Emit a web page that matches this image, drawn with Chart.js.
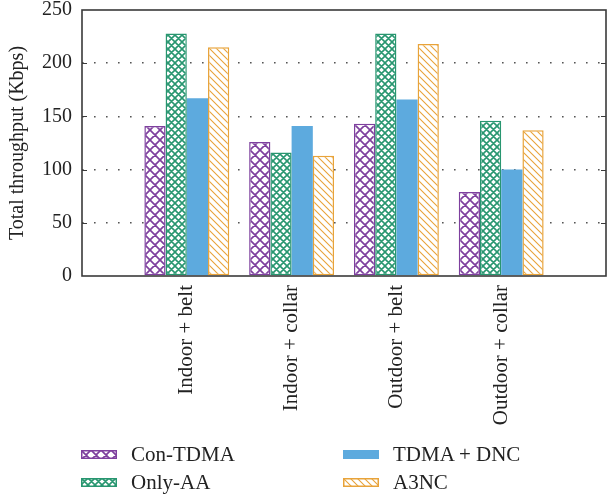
<!DOCTYPE html>
<html><head><meta charset="utf-8">
<script src="https://cdn.jsdelivr.net/npm/chart.js@4/dist/chart.umd.min.js"></script>
<style>
html,body{margin:0;padding:0;background:#fff;}
#wrap{position:relative;width:609px;height:496px;}
#c{display:block}
.leg{position:absolute;height:26px;font-family:'Liberation Serif',serif;font-size:21px;color:#222;display:flex;align-items:center;white-space:nowrap;}
.leg canvas{margin-right:14px;display:block}
</style></head><body>
<div id="wrap"><canvas id="c" width="609" height="496"></canvas><div id="legend"></div></div>
<script>
const categories = ['', 'Indoor + belt', 'Indoor + collar', 'Outdoor + belt', 'Outdoor + collar', ''];
const seriesNames = ['Con-TDMA', 'Only-AA', 'TDMA + DNC', 'A3NC'];
const conTdma = [null, 141, 126, 143, 79, null];
const onlyAA  = [null, 228, 116, 228, 146, null];
const tdmaDnc = [null, 167, 141, 166, 100, null];
const a3nc    = [null, 215, 113, 218, 137, null];
const yTicks  = [0, 50, 100, 150, 200, 250];

const PURPLE = 'rgb(126,64,158)', GREEN = 'rgb(40,150,112)', BLUE = 'rgb(93,170,222)', ORANGE = 'rgb(232,163,58)';

function makePattern(color, type, s, lw) {
  const c = document.createElement('canvas'); c.width = s; c.height = s;
  const g = c.getContext('2d');
  g.fillStyle = '#fff'; g.fillRect(0, 0, s, s);
  g.strokeStyle = color; g.lineWidth = lw;
  g.beginPath();
  if (type === 'cross' || type === 'back') {
    g.moveTo(-1, -1); g.lineTo(s + 1, s + 1);
    g.moveTo(-2, s - 2); g.lineTo(2, s + 2);
    g.moveTo(s - 2, -2); g.lineTo(s + 2, 2);
  }
  if (type === 'cross') {
    g.moveTo(-1, s + 1); g.lineTo(s + 1, -1);
    g.moveTo(-2, 2); g.lineTo(2, -2);
    g.moveTo(s - 2, s + 2); g.lineTo(s + 2, s - 2);
  }
  g.stroke();
  return g.createPattern(c, 'repeat');
}
const ctx = document.getElementById('c').getContext('2d');
const fills = [makePattern(PURPLE, 'cross', 10, 1.7), makePattern(GREEN, 'cross', 7, 1.6), BLUE, makePattern(ORANGE, 'back', 7, 1.1)];
const borders = [PURPLE, GREEN, BLUE, ORANGE];
const values = [conTdma, onlyAA, tdmaDnc, a3nc];

const boxPlugin = {
  id: 'box',
  afterDraw(chart) {
    const {ctx, chartArea: a, scales: {y}} = chart;
    ctx.save();
    ctx.strokeStyle = '#3a3a3a'; ctx.lineWidth = 1.6;
    ctx.strokeRect(a.left, a.top, a.right - a.left, a.bottom - a.top);
    ctx.lineWidth = 1.2;
    yTicks.slice(1, -1).forEach(v => {
      const py = Math.round(y.getPixelForValue(v)) + 0.5;
      ctx.beginPath();
      ctx.moveTo(a.left, py); ctx.lineTo(a.left + 5, py);
      ctx.moveTo(a.right - 5, py); ctx.lineTo(a.right, py);
      ctx.stroke();
    });
    ctx.restore();
  }
};

new Chart(ctx, {
  type: 'bar',
  data: {
    labels: categories,
    datasets: seriesNames.map((n, i) => ({
      label: n, data: values[i], backgroundColor: fills[i], borderColor: borders[i],
      borderWidth: i === 2 ? 0 : 1.5, borderSkipped: false,
      categoryPercentage: 0.81, barPercentage: 1.0
    }))
  },
  options: {
    responsive: false, animation: false, devicePixelRatio: 1,
    layout: {padding: {top: 10, right: 3, left: 0, bottom: 0}},
    plugins: {legend: {display: false}, tooltip: {enabled: false}},
    scales: {
      x: {
        offset: false,
        grid: {display: false, drawTicks: false},
        border: {display: false},
        ticks: {minRotation: 90, maxRotation: 90, autoSkip: false, padding: 9, color: '#222',
          font: {family: 'Liberation Serif', size: 21}},
        afterFit: s => { s.height = 220; s.paddingLeft = 0; s.paddingRight = 0; }
      },
      y: {
        min: 0, max: 250,
        afterBuildTicks: s => { s.ticks = yTicks.map(v => ({value: v})); },
        grid: {drawTicks: false, lineWidth: 1.6, color: c => (c.tick && (c.tick.value === 0 || c.tick.value === 250)) ? 'rgba(0,0,0,0)' : '#555'},
        border: {display: false, dash: [1.6, 10.4]},
        ticks: {padding: 10, color: '#222', font: {family: 'Liberation Serif', size: 20}},
        title: {display: true, text: 'Total throughput (Kbps)', color: '#222', padding: {top: 6, bottom: 0},
          font: {family: 'Liberation Serif', size: 20}},
        afterFit: s => { s.width = 82; s.paddingTop = 0; s.paddingBottom = 0; }
      }
    }
  },
  plugins: [boxPlugin]
});

// legend
const legendPos = [[81, 454], [81, 482], [343, 454], [343, 482]];
const leg = document.getElementById('legend');
seriesNames.forEach((n, i) => {
  const d = document.createElement('div'); d.className = 'leg';
  d.style.left = legendPos[i][0] + 'px'; d.style.top = (legendPos[i][1] - 13) + 'px';
  const sw = document.createElement('canvas'); sw.width = 36; sw.height = 9;
  const g = sw.getContext('2d');
  g.fillStyle = fills[i]; g.fillRect(0, 0, 36, 9);
  if (i !== 2) { g.strokeStyle = borders[i]; g.lineWidth = 1.5; g.strokeRect(0.75, 0.75, 34.5, 7.5); }
  d.appendChild(sw);
  const t = document.createElement('span'); t.textContent = n; d.appendChild(t);
  leg.appendChild(d);
});
</script>
</body></html>
